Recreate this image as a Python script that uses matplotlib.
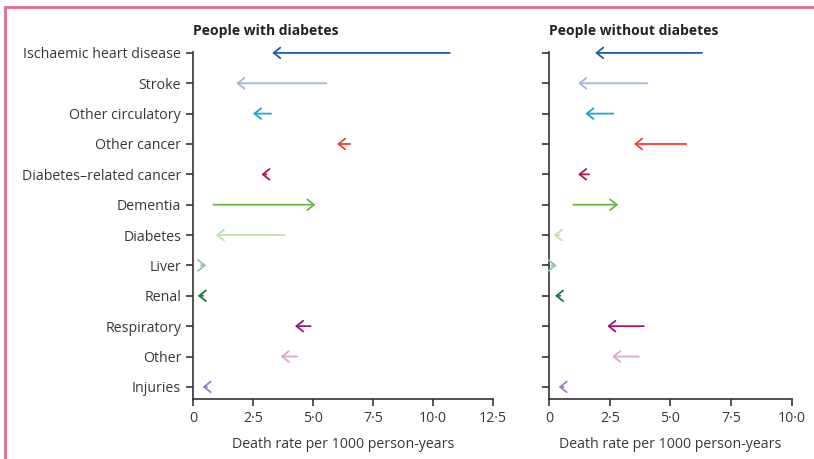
import matplotlib
matplotlib.use("Agg")
import matplotlib.pyplot as plt
from matplotlib.lines import Line2D
from matplotlib.ticker import FuncFormatter

plt.rcParams["font.family"] = ["Open Sans", "DejaVu Sans"]

causes = [
    "Ischaemic heart disease", "Stroke", "Other circulatory", "Other cancer",
    "Diabetes\u2013related cancer", "Dementia", "Diabetes", "Liver", "Renal",
    "Respiratory", "Other", "Injuries",
]
colors = [
    "#1f5ea8", "#a4b4dc", "#1aa6d2", "#e8453a", "#b51848", "#6bb844",
    "#c2e0a9", "#90c2a6", "#0f7a44", "#961a7f", "#d7a8d0", "#9c7cc4",
]

# arrow tail (earlier rate) and head (later rate), per 1000 person-years
with_start = [10.7, 5.55, 3.25, 6.55, 3.05, 0.85, 3.8, 0.33, 0.42, 4.9, 4.35, 0.58]
with_end = [3.3, 1.8, 2.5, 6.0, 2.85, 5.1, 0.95, 0.55, 0.2, 4.25, 3.65, 0.4]
without_start = [6.3, 4.05, 2.65, 5.65, 1.65, 1.0, 0.42, 0.1, 0.47, 3.9, 3.7, 0.6]
without_end = [1.9, 1.2, 1.5, 3.5, 1.2, 2.85, 0.2, 0.32, 0.25, 2.4, 2.6, 0.4]

fig = plt.figure(figsize=(8.14, 4.59), dpi=100)
ax1 = fig.add_axes([0.2371, 0.1307, 0.3686, 0.756])
ax2 = fig.add_axes([0.6744, 0.1307, 0.2985, 0.756])

dot_fmt = FuncFormatter(lambda v, p: "0" if v == 0 else f"{v:.1f}".replace(".", "\u00b7"))
text_col = "#383838"

panels = [
    (ax1, with_start, with_end, "People with diabetes", 12.5),
    (ax2, without_start, without_end, "People without diabetes", 10.0),
]
for ax, starts, ends, title, xmax in panels:
    for i, (s, e) in enumerate(zip(starts, ends)):
        ax.annotate(
            "", xy=(e, i), xytext=(s, i),
            arrowprops=dict(arrowstyle="->,head_length=0.4,head_width=0.32",
                            color=colors[i], lw=1.3, shrinkA=0, shrinkB=0,
                            mutation_scale=12),
        )
    ax.set_xlim(0, xmax)
    ax.set_ylim(11.4, -0.03)
    ax.set_xticks([0, 2.5, 5.0, 7.5, 10.0, 12.5][: 6 if xmax > 10 else 5])
    ax.xaxis.set_major_formatter(dot_fmt)
    ax.set_yticks(range(len(causes)))
    ax.spines[["top", "right"]].set_visible(False)
    for sp in ("left", "bottom"):
        ax.spines[sp].set_linewidth(1.2)
        ax.spines[sp].set_color("#333333")
    ax.tick_params(direction="out", length=5, width=1.2, color="#333333",
                   labelcolor=text_col, labelsize=10.2)
    ax.set_xlabel("Death rate per 1000 person-years", color=text_col, fontsize=10.2, labelpad=8)
    ax.set_title(title, loc="left", fontweight="bold", fontsize=10, color="#222222", pad=12)

ax1.set_yticklabels(causes)
ax2.set_yticklabels([])

# publication frame
pink = "#d9718f"
fig.add_artist(Line2D([0.0062, 1.0], [0.985, 0.985], color=pink, lw=2.0))
fig.add_artist(Line2D([0.0062, 0.0062], [0.0, 0.985], color=pink, lw=2.0))

fig.savefig("out.png", dpi=100)
